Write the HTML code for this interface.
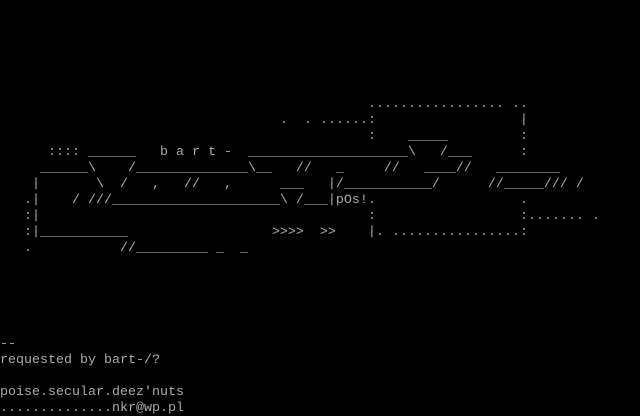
<!DOCTYPE html>
<html><head><meta charset="utf-8"><style>
html,body{margin:0;padding:0;background:#000;width:640px;height:416px;overflow:hidden}
pre{margin:0;padding:0;font-family:"Liberation Mono",monospace;font-size:13.33px;line-height:16px;color:#aaa;white-space:pre;position:relative;top:1px}
</style></head><body><pre>






                                              ................. ..
                                   .  . ......:                  |
                                              :    _____         :
      :::: ______   b a r t -  ____________________\   /___      :
     ______\    /______________\__   //   _     //   ____//   ________
    |       \  /   ,   //   ,      ___   |/___________/      //_____/// /
   .|    / ///_____________________\ /___|pOs!.                  .
   :|                                         :                  :....... .
   :|___________                  &gt;&gt;&gt;&gt;  &gt;&gt;    |. ................:
   .           //_________ _  _





--
requested by bart-/?

poise.secular.deez'nuts
..............nkr@wp.pl</pre></body></html>
